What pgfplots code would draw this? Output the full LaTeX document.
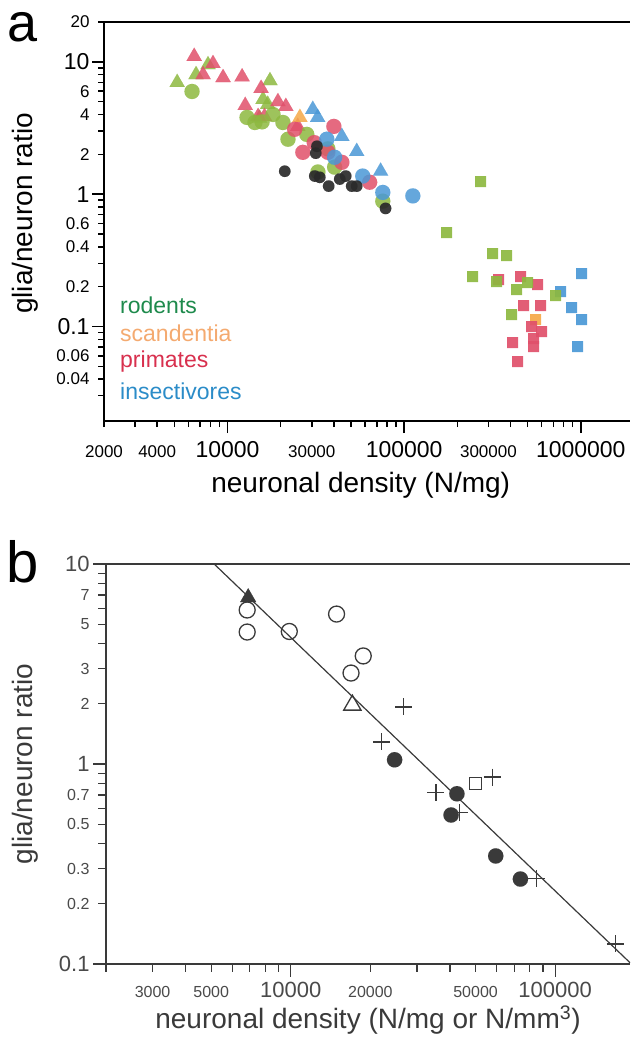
\documentclass[border=0pt]{standalone}
\usepackage{fontspec}
\setmainfont{Liberation Sans}
\usepackage{pgfplots}
\pgfplotsset{compat=1.18}

\definecolor{cgreen}{HTML}{8DB840}
\definecolor{cred}{HTML}{E0506A}
\definecolor{cblue}{HTML}{4A98D6}
\definecolor{cdark}{HTML}{2A2A2A}
\definecolor{corange}{HTML}{F5A848}
\definecolor{lgreen}{HTML}{1E8A4C}
\definecolor{lorange}{HTML}{F4AA70}
\definecolor{lred}{HTML}{D8304E}
\definecolor{lblue}{HTML}{2B8CC8}
\definecolor{bgray}{HTML}{3A3A3A}
\definecolor{tgray}{HTML}{4A4A4A}

% tick label sizes (x labels get one common height so baselines line up)
\newcommand\xs[1]{\raisebox{0pt}[16.5pt][0pt]{\fontsize{17}{17}\selectfont #1}}
\newcommand\xb[1]{\raisebox{0pt}[16.5pt][0pt]{\fontsize{23}{23}\selectfont #1}}
\newcommand\ys[1]{{\fontsize{17}{17}\selectfont #1}}
\newcommand\yb[1]{{\fontsize{23}{23}\selectfont #1}}
\newcommand\bxs[1]{\raisebox{0pt}[16pt][0pt]{\fontsize{16}{16}\selectfont #1}}
\newcommand\bxb[1]{\raisebox{0pt}[16pt][0pt]{\fontsize{22}{22}\selectfont #1}}
\newcommand\bys[1]{{\fontsize{16}{16}\selectfont #1}}
\newcommand\byb[1]{{\fontsize{22}{22}\selectfont #1}}

\pgfplotsset{
  dot/.style={only marks, mark=*, mark size=7.6pt,
    mark options={draw=#1, fill=#1, line width=0.01pt, opacity=0.85}},
  sdot/.style={only marks, mark=*, mark size=5.8pt,
    mark options={draw=#1, fill=#1, line width=0.01pt, opacity=0.92}},
  tri/.style={only marks, mark=triangle*, mark size=8.8pt,
    mark options={draw=#1, fill=#1, line width=0.01pt, opacity=0.85}},
  sq/.style={only marks, mark=square*, mark size=5.5pt,
    mark options={draw=#1, fill=#1, line width=0.01pt, opacity=0.92}},
}

\begin{document}
\begin{tikzpicture}
\useasboundingbox (0,0) rectangle (630pt,-1044pt);

% ---------------- panel a ----------------
\begin{axis}[
  at={(104pt,-421pt)}, anchor=south west,
  scale only axis, width=526pt, height=399pt,
  xmode=log, ymode=log,
  xmin=2000, xmax=1.9e6, ymin=0.0193, ymax=20,
  axis x line=box, axis y line=left,
  axis line style={-, line width=1.5pt, black},
  tick style={line width=1.5pt, black},
  xtick pos=bottom, ytick pos=left,
  tick align=outside,
  major tick length=6pt, minor tick length=6pt,
  clip=false,
  xtick={2000,4000,1e4,30000,1e5,300000,1e6},
  xticklabels={\xs{2000},\xs{4000},\xb{10000},\xs{30000},\xb{100000},\xs{300000},\xb{1000000}},
  xticklabel style={anchor=north, yshift=-10pt},
  minor xtick={3000,5000,6000,7000,8000,9000,20000,40000,50000,60000,70000,80000,90000,
    200000,400000,500000,600000,700000,800000,900000},
  ytick={0.04,0.06,0.1,0.2,0.4,0.6,1,2,4,6,10,20},
  yticklabels={\ys{0.04},\ys{0.06},\yb{0.1},\ys{0.2},\ys{0.4},\ys{0.6},\yb{1},\ys{2},\ys{4},\ys{6},\yb{10},\ys{20}},
  yticklabel style={anchor=east, xshift=-5pt},
  minor ytick={0.03,0.05,0.07,0.08,0.09,0.3,0.5,0.7,0.8,0.9,3,5,7,8,9},
  extra x ticks={1e4,1e5,1e6}, extra x tick labels={},
  extra y ticks={0.1,1,10}, extra y tick labels={},
  extra tick style={major tick length=12pt},
  xlabel={neuronal density (N/mg)},
  ylabel={glia/neuron ratio},
  label style={font=\fontsize{28}{28}\selectfont},
  xlabel style={at={(axis description cs:0.488,0)}, anchor=center, yshift=-64pt},
  ylabel style={at={(axis description cs:-0.15,0.52)}, anchor=center},
]
% triangles
\addplot[tri=cgreen] coordinates {
  (5190,6.98) (6640,8.0) (7760,9.5) (17400,7.2) (15900,5.2) (16900,4.77) (15200,3.75)
};
\addplot[tri=cred] coordinates {
  (6480,11) (8280,9.7) (7280,8.0) (9440,7.6) (12100,7.7) (15500,6.3) (12600,4.68)
  (19300,5.0) (21400,4.6) (14900,3.86) (16200,3.86) (25000,3.25)
};
\addplot[tri=corange] coordinates {(25700,3.8)};
\addplot[tri=cblue] coordinates {
  (30400,4.37) (32400,3.8) (44400,2.73) (53900,2.1) (73600,1.49)
};
% circles
\addplot[dot=cgreen] coordinates {
  (6300,5.97) (12900,3.8) (14300,3.48) (15700,3.52) (18100,4.0) (20600,3.48)
  (22000,2.6) (28100,2.83) (40400,1.6) (32500,1.47) (75700,0.885) (37000,2.2)
};
\addplot[dot=cred] coordinates {
  (24000,3.09) (26700,2.07) (40000,3.25) (37000,2.07) (44400,1.74) (63800,1.23) (31000,2.45)
};
\addplot[dot=cblue] coordinates {
  (36500,2.6) (40400,1.9) (58300,1.37) (75700,1.03) (112000,0.97)
};
\addplot[sdot=cdark] coordinates {
  (21100,1.49) (32100,2.3) (31600,2.04) (31200,1.37) (33300,1.34) (37400,1.15)
  (43200,1.3) (46700,1.37) (50500,1.15) (53900,1.15) (78500,0.78)
};
% squares
\addplot[sq=cblue] coordinates {
  (1007000,0.253) (766000,0.185) (884000,0.138) (1007000,0.112) (955000,0.071)
};
\addplot[sq=corange] coordinates {(553000,0.112)};
\addplot[sq=cred] coordinates {
  (342000,0.227) (455000,0.24) (567000,0.206) (473000,0.143) (590000,0.143)
  (525000,0.1) (598000,0.091) (540000,0.081) (540000,0.0703) (411000,0.0754) (438000,0.054)
};
\addplot[sq=cgreen] coordinates {
  (270000,1.25) (174000,0.51) (316000,0.358) (379000,0.346) (244000,0.24)
  (333000,0.22) (499000,0.216) (432000,0.191) (718000,0.17) (405000,0.124)
};
\end{axis}

\begin{scope}[every node/.style={anchor=west, inner sep=0pt, font=\fontsize{23}{23}\selectfont}]
\node[text=lgreen]  at (120pt,-305pt) {rodents};
\node[text=lorange] at (120pt,-333pt) {scandentia};
\node[text=lred]    at (120pt,-362pt) {primates};
\node[text=lblue]   at (120pt,-391pt) {insectivores};
\end{scope}
\node[anchor=base west, inner sep=0pt, font=\fontsize{54}{54}\selectfont] at (7pt,-41pt) {a};

% ---------------- panel b ----------------
\begin{axis}[
  at={(106pt,-964pt)}, anchor=south west,
  scale only axis, width=524pt, height=400pt,
  xmode=log, ymode=log,
  xmin=2000, xmax=1.92e5, ymin=0.1, ymax=10,
  axis x line=box, axis y line=left,
  axis line style={-, line width=1.2pt, bgray},
  tick style={line width=1.2pt, bgray},
  xtick pos=bottom, ytick pos=left,
  tick align=outside,
  major tick length=8pt, minor tick length=8pt,
  clip=false,
  ticklabel style={text=tgray},
  xtick={3000,5000,1e4,20000,50000,1e5},
  xticklabels={\bxs{3000},\bxs{5000},\bxb{10000},\bxs{20000},\bxs{50000},\bxb{100000}},
  xticklabel style={anchor=north, yshift=-6pt},
  minor xtick={2000,4000,6000,7000,8000,9000,30000,40000,60000,70000,80000,90000},
  ytick={0.1,0.2,0.3,0.5,0.7,1,2,3,5,7,10},
  yticklabels={\byb{0.1},\bys{0.2},\bys{0.3},\bys{0.5},\bys{0.7},\byb{1},\bys{2},\bys{3},\bys{5},\bys{7},\byb{10}},
  yticklabel style={anchor=east, xshift=-5pt},
  minor ytick={0.4,0.6,0.8,0.9,4,6,8,9},
  extra x ticks={1e4,1e5}, extra x tick labels={},
  extra y ticks={0.1,1,10}, extra y tick labels={},
  extra tick style={major tick length=13pt},
  xlabel={neuronal density (N/mg or N/mm\textsuperscript{3})},
  ylabel={glia/neuron ratio},
  label style={font=\fontsize{28}{28}\selectfont, text=bgray},
  xlabel style={at={(axis description cs:0.5,0)}, anchor=center, yshift=-56pt},
  ylabel style={at={(axis description cs:-0.155,0.5)}, anchor=center},
]
\addplot[bgray, line width=1.2pt, no marks] coordinates {(5130,10) (192000,0.1015)};
\addplot[only marks, mark=triangle*, mark size=9pt, bgray] coordinates {(6900,6.8)};
\addplot[only marks, mark=o, mark size=8pt, mark options={line width=1.3pt, draw=bgray, fill=white}]
  coordinates {(6840,5.89) (6840,4.57) (9870,4.6) (14900,5.62) (18800,3.47) (16900,2.85)};
\addplot[only marks, mark=triangle, mark size=10pt, mark options={line width=1.3pt, draw=bgray}]
  coordinates {(17100,1.97)};
\addplot[only marks, mark=square, mark size=6pt, mark options={line width=1.3pt, draw=bgray}]
  coordinates {(50000,0.80)};
\addplot[only marks, mark=*, mark size=7.7pt, mark options={draw=bgray, fill=bgray, line width=0.01pt}]
  coordinates {(24700,1.05) (42500,0.71) (40400,0.556) (59600,0.347) (73900,0.266)};
\addplot[only marks, mark=+, mark size=8.5pt, mark options={line width=1.3pt, draw=bgray}]
  coordinates {(26700,1.93) (22100,1.29) (57900,0.86) (35400,0.72) (43600,0.57)
    (85200,0.268) (169000,0.126)};
\end{axis}
\node[anchor=base west, inner sep=0pt, font=\fontsize{58}{58}\selectfont] at (6pt,-582pt) {b};
\end{tikzpicture}
\end{document}
